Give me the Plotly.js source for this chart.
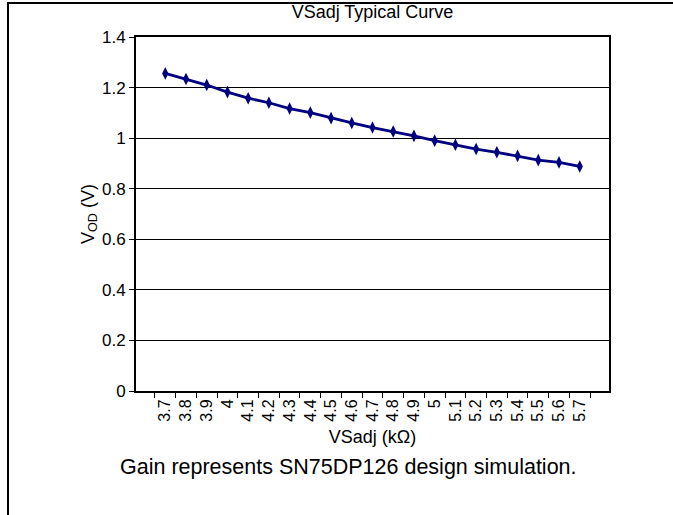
<!DOCTYPE html>
<html>
<head>
<meta charset="utf-8">
<script src="https://cdn.plot.ly/plotly-3.0.1.min.js"></script>
<style>
  html, body { margin: 0; padding: 0; background: #fff; }
  #wrap { position: relative; width: 673px; height: 515px; }
  #chart { position: absolute; left: 0; top: 0; width: 673px; height: 515px; }
  #frame { position: absolute; left: 7px; top: 2px; width: 666px; height: 513px;
           border-left: 2px solid #000; border-top: 2px solid #000; box-sizing: border-box;
           pointer-events: none; }
</style>
</head>
<body>
<div id="wrap">
  <div id="chart"></div>
  <div id="frame"></div>
</div>
<script>
const categories = ['3.7','3.8','3.9','4','4.1','4.2','4.3','4.4','4.5','4.6','4.7',
                    '4.8','4.9','5','5.1','5.2','5.3','5.4','5.5','5.6','5.7'];
const vodValues = [1.256, 1.234, 1.210, 1.182, 1.158, 1.140, 1.117, 1.101, 1.079, 1.060, 1.042,
                   1.026, 1.009, 0.990, 0.974, 0.957, 0.944, 0.930, 0.913, 0.904, 0.888];
const yTickValues = [0, 0.2, 0.4, 0.6, 0.8, 1, 1.2, 1.4];
const chartTitle = 'VSadj Typical Curve';
const xTitle = 'VSadj (kΩ)';
const yTitle = 'V<sub>OD</sub> (V)';
const footnote = 'Gain represents SN75DP126 design simulation.';

const FONT = 'Liberation Sans, Arial, sans-serif';

const trace = {
  x: categories,
  y: vodValues,
  type: 'scatter',
  mode: 'lines+markers',
  line: { color: '#000080', width: 2.8 },
  marker: { symbol: 'diamond-tall', size: 9, color: '#000080' },
  hoverinfo: 'x+y'
};

const layout = {
  width: 673, height: 515,
  margin: { l: 136, r: 64, t: 37, b: 124 },
  paper_bgcolor: '#fff', plot_bgcolor: '#fff',
  showlegend: false,
  font: { family: FONT, color: '#000', size: 16 },
  title: {
    text: chartTitle,
    font: { family: FONT, size: 18, color: '#000' },
    xref: 'paper', x: 0.5, xanchor: 'center',
    yref: 'container', y: 1 - 12/515, yanchor: 'middle'
  },
  xaxis: {
    type: 'category',
    tickson: 'boundaries',
    ticks: 'outside', ticklen: 5, tickwidth: 1, tickcolor: '#000',
    tickangle: -90,
    tickfont: { family: FONT, size: 16, color: '#000' },
    showline: true, linecolor: '#000', linewidth: 2, mirror: true,
    showgrid: false, zeroline: false,
    title: { text: xTitle, font: { family: FONT, size: 18, color: '#000' }, standoff: 10 },
    automargin: false
  },
  yaxis: {
    range: [0, 1.4],
    tickvals: yTickValues,
    ticks: 'outside', ticklen: 5, tickwidth: 1, tickcolor: '#000',
    tickfont: { family: FONT, size: 17, color: '#000' },
    showline: true, linecolor: '#000', linewidth: 2, mirror: true,
    showgrid: true, gridcolor: '#000', gridwidth: 1,
    zeroline: false,
    title: { text: yTitle, font: { family: FONT, size: 18, color: '#000' }, standoff: 3 },
    automargin: false
  },
  annotations: [{
    text: footnote,
    xref: 'paper', yref: 'paper',
    x: (348 - 136) / 473, y: (391 - 467) / 354,
    xanchor: 'center', yanchor: 'middle',
    showarrow: false,
    font: { family: FONT, size: 21.5, color: '#000' }
  }]
};

Plotly.newPlot('chart', [trace], layout, { displayModeBar: false });
</script>
</body>
</html>
